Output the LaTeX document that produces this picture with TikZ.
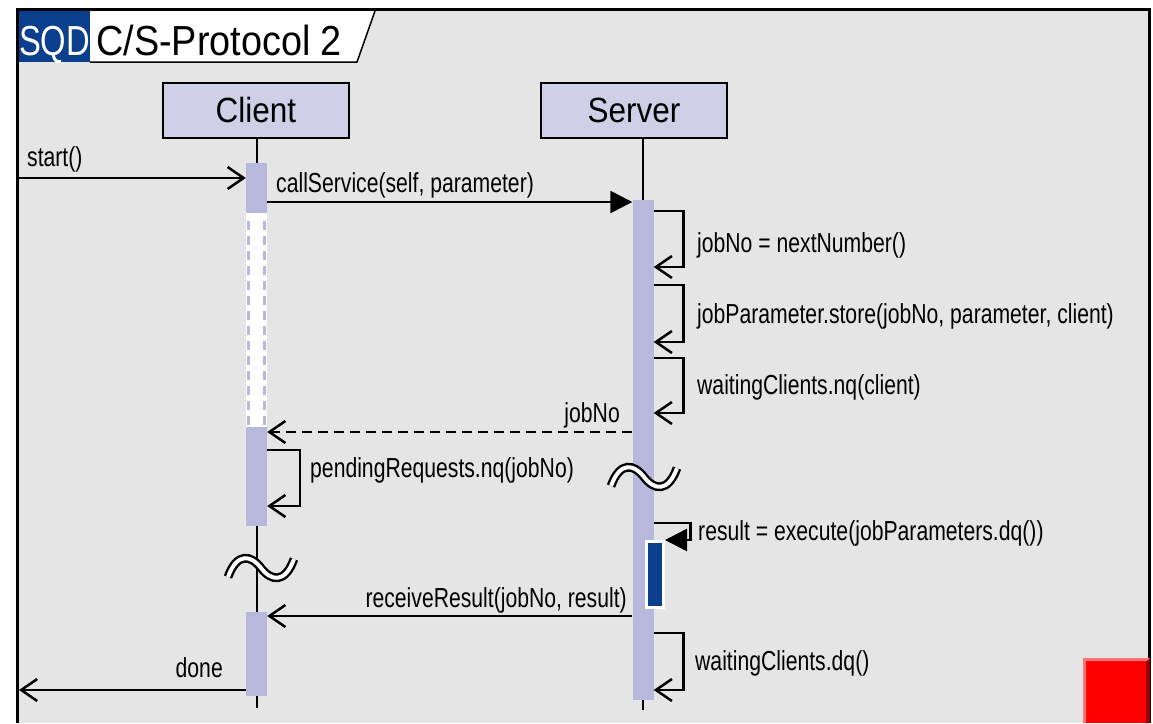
\documentclass[tikz,border=0pt]{standalone}
\usepackage{fontspec}
\setmainfont{Liberation Sans}
\newfontfamily\msgfont[FakeStretch=0.77]{Liberation Sans}
\newfontfamily\headfont[FakeStretch=0.9]{Liberation Sans}
\newfontfamily\sqdfont[FakeStretch=0.78]{Liberation Sans}
\usetikzlibrary{arrows.meta,positioning}

\definecolor{framebg}{HTML}{E5E5E5}
\definecolor{headfill}{HTML}{CFCFE7}
\definecolor{barfill}{HTML}{B8B8DC}
\definecolor{sqdblue}{HTML}{0A3F8E}
\definecolor{alarmred}{HTML}{FF0000}

\tikzset{
  head/.style={draw,line width=2pt,fill=headfill,minimum width=186pt,minimum height=55pt,inner sep=0pt,font=\headfont\fontsize{35}{37}\selectfont},
  actbar/.style={fill=barfill,minimum width=21pt,inner sep=0pt,anchor=north},
  msg/.style={line width=2.5pt,-{Straight Barb[length=16pt,width=22pt]}},
  call/.style={line width=2.5pt,-{Triangle[length=22pt,width=22pt]}},
  reply/.style={msg,dash pattern=on 10pt off 6pt},
  lbl/.style={font=\msgfont\fontsize{27.5}{29}\selectfont,inner sep=0pt},
  lifeline/.style={line width=2.2pt},
  breakmark/.style={double=white,double distance=4pt,line width=2.4pt}
}

\begin{document}
\begin{tikzpicture}[x=1pt,y=-1pt]
\useasboundingbox (0,0) rectangle (1153,723);
% Frame
\fill[white] (0,0) rectangle (1153,723);
\fill[framebg] (17,9) rectangle (1149,723);
\draw[line width=3pt] (17,723) -- (17,9) -- (1149,9) -- (1149,723);
% Title tab
\fill[sqdblue] (19,11) rectangle (90,62);
\fill[white] (90,11) -- (375,11) -- (357,62) -- (90,62) -- cycle;
\draw[line width=1.5pt] (375,11) -- (357,62) -- (90,62);
\node[inner sep=0pt,anchor=base,text=white,font=\sqdfont\fontsize{42}{44}\selectfont] (sqd) at (54.5,55) {SQD};
\node[inner sep=0pt,anchor=base west,font=\headfont\fontsize{42}{44}\selectfont] (title) at (96,55) {C/S-Protocol 2};
% Lifelines
\node[head] (client) at (256,110) {Client};
\node[head] (server) at (634,110) {Server};
\coordinate (clientend) at (257,708);
\coordinate (serverend) at (643,710);
\draw[lifeline] (client.south -| clientend) -- (clientend);
\draw[lifeline] (server.south -| serverend) -- (serverend);
% Activations
\node[actbar,minimum height=50pt] (cA) at (256.5,163) {};
\node[actbar,fill=white,minimum height=214pt] (cWait) at (256.5,213) {};
\draw[barfill,line width=2.5pt,dash pattern=on 9pt off 6pt] ([xshift=2.5pt,yshift=-8pt]cWait.north west) -- ([xshift=2.5pt]cWait.south west);
\draw[barfill,line width=2.5pt,dash pattern=on 9pt off 6pt] ([xshift=-2.5pt,yshift=-8pt]cWait.north east) -- ([xshift=-2.5pt]cWait.south east);
\node[actbar,minimum height=99pt] (cB) at (256.5,427) {};
\node[actbar,minimum height=84pt] (cC) at (256.5,612) {};
\node[actbar,minimum height=500pt] (sA) at (643,200) {};
\node[actbar,fill=sqdblue,draw=white,line width=3pt,minimum width=17pt,minimum height=66pt] (sX) at (655,540) {};
% Breaks
\draw[breakmark,shift={(644,477)}] (-33,9) .. controls (-24,-16) and (-10,-13) .. (0,0) .. controls (10,13) and (24,16) .. (33,-9);
\draw[breakmark,shift={(261,568)}] (-33,9) .. controls (-24,-16) and (-10,-13) .. (0,0) .. controls (10,13) and (24,16) .. (33,-9);
% Messages
\coordinate (startsrc) at (17,178);
\draw[msg] (startsrc) -- (cA.west |- startsrc);
\draw[call] (cA.east |- 0,202) -- (sA.west |- 0,202);
\draw[msg] (sA.east |- 0,211) -- ++(30,0) |- (sA.east |- 0,267);
\draw[msg] (sA.east |- 0,285) -- ++(30,0) |- (sA.east |- 0,342);
\draw[msg] (sA.east |- 0,358) -- ++(30,0) |- (sA.east |- 0,413);
\draw[reply] (sA.west |- 0,432) -- (cB.east |- 0,432);
\draw[msg] (cB.east |- 0,450) -- ++(33,0) |- (cB.east |- 0,506);
\draw[call] (sA.east |- 0,523) -- ++(37,0) |- (sX.east |- 0,540);
\draw[msg] (sA.west |- 0,616) -- (cC.east |- 0,616);
\draw[msg] (sA.east |- 0,633) -- ++(30,0) |- (sA.east |- 0,690);
\coordinate (doneend) at (19,690);
\draw[msg] (cC.west |- doneend) -- (doneend);
% Labels
\node[lbl,anchor=base west] (lstart) at (27,166) {start()};
\node[lbl,anchor=base west] (lcall) at (276,192) {callService(self, parameter)};
\node[lbl,anchor=base west] (lnext) at (697,252) {jobNo = nextNumber()};
\node[lbl,anchor=base west] (lstore) at (697,323) {jobParameter.store(jobNo, parameter, client)};
\node[lbl,anchor=base west] (lnq) at (697,394) {waitingClients.nq(client)};
\node[lbl,anchor=base east] (ljob) at (620,422) {jobNo};
\node[lbl,anchor=base west] (lpend) at (310,477) {pendingRequests.nq(jobNo)};
\node[lbl,anchor=base west] (lexec) at (698,540) {result = execute(jobParameters.dq())};
\node[lbl,anchor=base east] (lrecv) at (627,607) {receiveResult(jobNo, result)};
\node[lbl,anchor=base west] (ldq) at (695,670) {waitingClients.dq()};
\node[lbl,anchor=base east] (ldone) at (223,677) {done};
% Red box
\fill[alarmred] (1083,658) rectangle (1150,723);
\fill[red!55!white] (1083,658) -- (1150,658) -- (1147,661) -- (1086,661) -- (1086,723) -- (1083,723) -- cycle;
\fill[red!60!black] (1150,658) -- (1150,723) -- (1146,723) -- (1146,662) -- cycle;
\end{tikzpicture}
\end{document}
